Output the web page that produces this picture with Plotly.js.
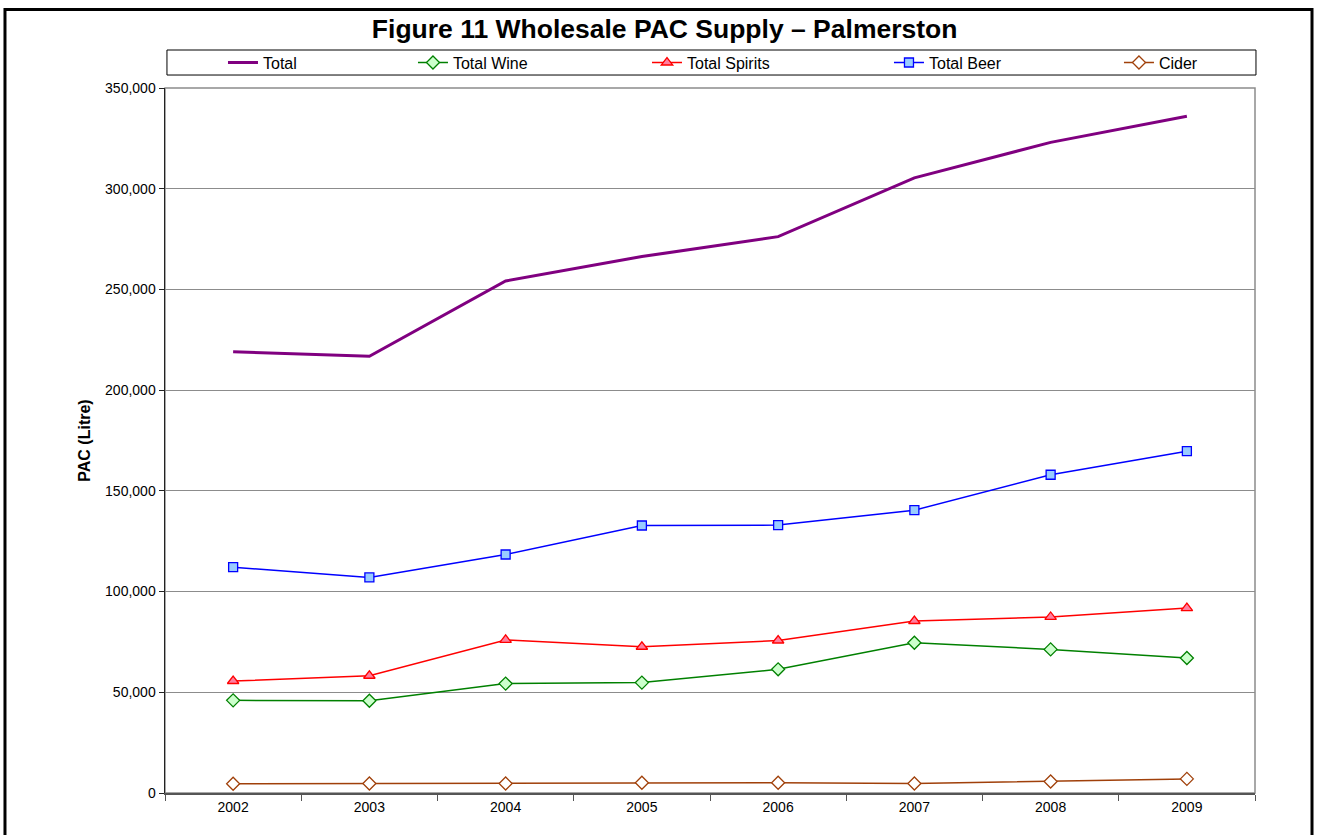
<!DOCTYPE html>
<html>
<head>
<meta charset="utf-8">
<script src="https://cdn.plot.ly/plotly-3.0.1.min.js"></script>
<style>
  html, body { margin: 0; padding: 0; background: #ffffff; overflow: hidden; }
  #chart { width: 1324px; height: 835px; }
</style>
</head>
<body>
<div id="chart"></div>
<script>
// Wholesale PAC supply for Palmerston, litres, by year and beverage group.

const YEARS = ['2002', '2003', '2004', '2005', '2006', '2007', '2008', '2009'];

const TOTAL = [219000, 216800, 254200, 266300, 276200, 305400, 323000, 336000];
const TOTAL_WINE = [46000, 45800, 54300, 54800, 61400, 74600, 71300, 67000];
const TOTAL_SPIRITS = [55600, 58200, 76000, 72600, 75700, 85400, 87400, 91800];
const TOTAL_BEER = [112100, 107000, 118400, 132800, 133000, 140400, 158000, 169700];
const CIDER = [4600, 4700, 4700, 5100, 5100, 4700, 5700, 7000];

const Y_TICKS = [0, 50000, 100000, 150000, 200000, 250000, 300000, 350000];
const Y_TICK_LABELS = ['0', '50,000', '100,000', '150,000', '200,000', '250,000', '300,000', '350,000'];

const FONT = 'Arial, "Liberation Sans", sans-serif';

// Each series gets its own legend so the entries sit with even gaps, like Excel's.
const LEGEND_X = [0.0532, 0.2275, 0.4422, 0.6642, 0.8752];

function series(name, values, legendIndex, lineColor, lineWidth, marker) {
  const trace = {
    x: YEARS,
    y: values,
    name: name,
    type: 'scatter',
    mode: marker ? 'lines+markers' : 'lines',
    line: { color: lineColor, width: lineWidth },
    legend: legendIndex === 0 ? 'legend' : 'legend' + (legendIndex + 1),
    cliponaxis: false,
  };
  if (marker) trace.marker = marker;
  return trace;
}

const traces = [
  series('Total', TOTAL, 0, '#800080', 3),
  series('Total Wine', TOTAL_WINE, 1, '#008000', 1.5, {
    symbol: 'diamond', size: 10, color: '#ccffcc', line: { color: '#008000', width: 1.3 },
  }),
  series('Total Spirits', TOTAL_SPIRITS, 2, '#ff0000', 1.5, {
    symbol: 'triangle-up', size: 10, color: '#ff7fa0', line: { color: '#ff0000', width: 1.3 },
  }),
  series('Total Beer', TOTAL_BEER, 3, '#0000ff', 1.5, {
    symbol: 'square', size: 9, color: '#99ccff', line: { color: '#0000ff', width: 1.3 },
  }),
  series('Cider', CIDER, 4, '#a0400a', 1.5, {
    symbol: 'diamond', size: 10, color: '#ffffff', line: { color: '#a0400a', width: 1.3 },
  }),
];

function legendAt(x) {
  return {
    orientation: 'h',
    x: x,
    xanchor: 'left',
    y: 1.036,
    yanchor: 'middle',
    bgcolor: 'rgba(0,0,0,0)',
    borderwidth: 0,
    font: { family: FONT, size: 16, color: '#000000' },
  };
}

// Plot area sits at x 165..1255, y 88..793 of the 1324x835 page.
const layout = {
  width: 1324,
  height: 835,
  paper_bgcolor: '#ffffff',
  plot_bgcolor: '#ffffff',
  font: { family: FONT, size: 14, color: '#000000' },
  margin: { l: 165, r: 69, t: 88, b: 42, pad: 0 },
  title: {
    text: '<b>Figure 11 Wholesale PAC Supply \u2013 Palmerston</b>',
    font: { family: FONT, size: 26.5, color: '#000000' },
    x: 0.502,
    xanchor: 'center',
    y: 0.966,
    yanchor: 'middle',
  },
  showlegend: true,
  legend: legendAt(LEGEND_X[0]),
  legend2: legendAt(LEGEND_X[1]),
  legend3: legendAt(LEGEND_X[2]),
  legend4: legendAt(LEGEND_X[3]),
  legend5: legendAt(LEGEND_X[4]),
  xaxis: {
    type: 'category',
    range: [-0.5, 7.5],
    showgrid: false,
    zeroline: false,
    showline: true,
    linecolor: '#555555',
    linewidth: 2,
    ticks: 'outside',
    tickson: 'boundaries',
    ticklen: 6,
    tickcolor: '#555555',
    tickwidth: 1,
    tickfont: { family: FONT, size: 14, color: '#000000' },
    fixedrange: true,
  },
  yaxis: {
    range: [0, 350000],
    tickvals: Y_TICKS,
    ticktext: Y_TICK_LABELS,
    showgrid: true,
    gridcolor: '#8c8c8c',
    gridwidth: 1,
    zeroline: false,
    showline: true,
    linecolor: '#222222',
    linewidth: 1.5,
    ticks: 'outside',
    ticklen: 5,
    tickcolor: '#222222',
    tickfont: { family: FONT, size: 14, color: '#000000' },
    title: {
      text: '<b>PAC (Litre)</b>',
      font: { family: FONT, size: 16, color: '#000000' },
      standoff: 10,
    },
    fixedrange: true,
  },
  shapes: [
    // plot area border (top and right edges show gray)
    {
      type: 'rect', xref: 'paper', yref: 'paper', x0: 0, x1: 1, y0: 0, y1: 1,
      line: { color: '#8c8c8c', width: 1.5 }, layer: 'below',
    },
    // legend box
    {
      type: 'rect', xref: 'paper', yref: 'paper',
      x0: 0.0018, x1: 1.0009, y0: 1.0184, y1: 1.0539,
      line: { color: '#000000', width: 1 }, fillcolor: 'rgba(0,0,0,0)',
    },
    // outer chart frame, bottom edge runs off the page
    {
      type: 'rect', xref: 'paper', yref: 'paper',
      x0: -0.1468, x1: 1.0523, y0: -0.12, y1: 1.1114,
      line: { color: '#000000', width: 3 }, fillcolor: 'rgba(0,0,0,0)',
    },
  ],
};

Plotly.newPlot('chart', traces, layout, { displayModeBar: false, staticPlot: true });
</script>
</body>
</html>
